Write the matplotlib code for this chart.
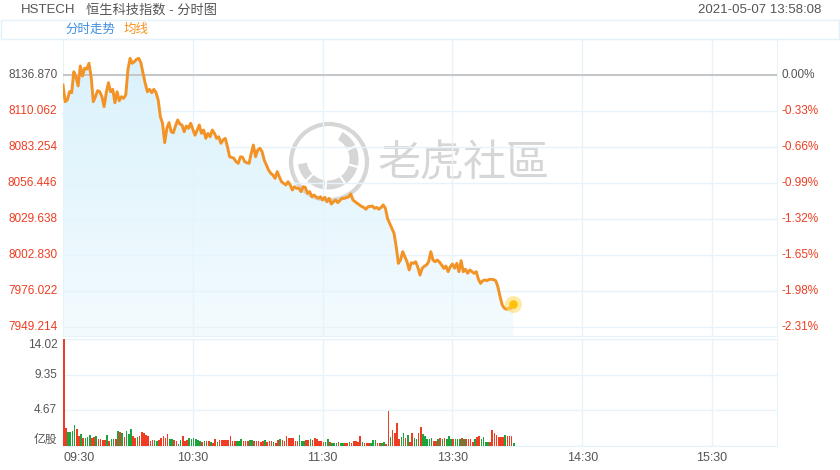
import numpy as np
import matplotlib.pyplot as plt
from matplotlib.colors import LinearSegmentedColormap
from matplotlib.patches import Circle, Arc, Rectangle
from matplotlib.lines import Line2D

plt.rcParams['font.family'] = ['Liberation Sans', 'Noto Sans CJK SC', 'DejaVu Sans']

# valores (um por minuto, a partir de 09:30)
fechamento_anterior = 8136.870
precos = [
    8129.4, 8117.0, 8118.3, 8124.4, 8123.7, 8139.3, 8135.6, 8128.7, 8143.6, 8136.1,
    8141.9, 8141.3, 8145.6, 8135.6, 8117.0, 8120.7, 8125.2, 8124.4, 8120.7, 8113.3,
    8123.7, 8131.1, 8124.4, 8126.2, 8116.2, 8124.4, 8117.7, 8120.7, 8119.5, 8122.0,
    8140.6, 8149.3, 8145.6, 8146.8, 8148.6, 8149.3, 8146.0, 8138.1, 8130.7, 8124.4,
    8126.2, 8123.7, 8126.2, 8123.7, 8118.3, 8105.8, 8100.9, 8086.5, 8097.2, 8101.4,
    8094.6, 8093.9, 8099.0, 8103.4, 8100.4, 8099.6, 8094.6, 8098.9, 8097.2, 8100.9,
    8096.4, 8092.0, 8095.9, 8099.6, 8093.4, 8095.9, 8089.7, 8093.4, 8090.9, 8095.9,
    8093.4, 8089.7, 8090.9, 8086.0, 8088.5, 8089.7, 8083.5, 8076.0, 8075.5, 8074.8,
    8072.3, 8071.1, 8076.0, 8075.6, 8072.3, 8071.5, 8071.1, 8078.6, 8084.7, 8076.0,
    8081.0, 8082.3, 8079.8, 8073.6, 8069.9, 8066.1, 8063.7, 8062.4, 8059.9, 8064.9,
    8061.0, 8057.4, 8056.2, 8055.0, 8057.4, 8055.0, 8051.2, 8053.7, 8052.5, 8052.5,
    8050.0, 8053.7, 8053.2, 8048.8, 8050.0, 8046.2, 8047.5, 8046.0, 8045.0, 8046.2,
    8043.8, 8045.8, 8042.5, 8045.0, 8040.8, 8042.5, 8043.8, 8041.8, 8043.5, 8045.0,
    8045.0, 8045.5, 8046.2, 8048.3, 8043.8, 8042.5, 8041.3, 8040.1, 8039.0, 8038.3,
    8036.9, 8038.8, 8039.0, 8039.3, 8037.6, 8038.3, 8036.9, 8038.3, 8040.1, 8037.6,
    8030.0, 8026.4, 8023.0, 8019.0, 8009.0, 7996.6, 7999.1, 8005.3, 8001.6, 7997.8,
    7991.7, 7997.1, 7996.6, 7997.8, 7993.7, 7987.9, 7992.9, 7994.5, 7995.4, 7997.8,
    8005.3, 7999.1, 7997.8, 7999.1, 7997.5, 7995.4, 7992.9, 7994.6, 7990.4, 7994.1,
    7996.1, 7993.0, 7996.6, 7990.4, 7998.6, 7990.4, 7992.2, 7989.2, 7991.7, 7990.4,
    7989.2, 7990.4, 7984.8, 7981.7, 7983.7, 7984.2, 7983.7, 7984.7, 7984.7, 7984.5,
    7983.7, 7979.2, 7971.8, 7965.6, 7963.2, 7962.4, 7963.2, 7963.2, 7966.0,
]
volumes = [
    14.02, 2.40, 1.84, 1.84, 1.93, 2.72, 2.19, 1.27, 1.53, 1.10,
    1.10, 1.18, 1.40, 1.10, 1.18, 1.27, 0.96, 0.96, 0.83, 0.83,
    1.40, 0.61, 0.92, 0.96, 0.96, 1.93, 1.84, 1.71, 1.18, 1.93,
    1.62, 2.28, 1.27, 1.10, 1.15, 1.27, 1.80, 1.71, 1.40, 1.27,
    0.61, 0.83, 0.74, 0.61, 0.83, 1.05, 1.27, 1.10, 1.62, 0.96,
    0.96, 0.74, 0.61, 0.31, 0.83, 1.36, 0.61, 0.74, 1.05, 0.96,
    1.00, 0.95, 0.75, 0.60, 0.55, 0.70, 0.60, 0.60, 0.50, 0.45,
    0.95, 0.55, 0.75, 0.80, 0.75, 0.75, 0.80, 1.25, 0.60, 0.65,
    0.60, 0.70, 0.95, 0.60, 0.60, 0.70, 0.85, 0.75, 0.60, 0.65,
    0.60, 0.55, 0.60, 0.80, 0.55, 0.60, 0.60, 0.55, 0.40, 0.80,
    0.95, 0.85, 0.60, 1.35, 1.05, 1.05, 1.05, 0.60, 0.60, 1.45,
    0.65, 0.70, 0.80, 0.85, 0.90, 0.85, 1.00, 0.90, 0.70, 0.60,
    0.55, 0.50, 0.88, 0.50, 0.45, 0.45, 0.45, 0.50, 0.45, 0.45,
    0.45, 0.40, 0.50, 0.35, 0.65, 0.60, 0.55, 1.30, 0.57, 0.45,
    0.45, 0.40, 0.45, 0.80, 0.80, 0.40, 0.45, 0.40, 0.57, 0.30,
    4.60, 1.20, 2.10, 1.65, 2.95, 0.90, 1.20, 1.65, 1.00, 1.45,
    0.55, 1.65, 1.00, 0.90, 1.65, 2.50, 1.55, 1.30, 0.90, 0.90,
    1.00, 0.60, 0.60, 0.90, 1.00, 0.90, 1.00, 0.90, 1.30, 0.90,
    0.90, 0.90, 0.90, 0.90, 1.00, 0.95, 0.90, 0.90, 0.90, 0.55,
    0.90, 1.15, 1.30, 0.90, 1.15, 0.55, 0.55, 0.55, 2.10, 1.75,
    1.45, 1.20, 1.15, 1.15, 1.45, 1.30, 1.30, 1.30, 0.45,
]
# r = alta (vermelho), g = baixa (verde)
sobe_desce = ("rrggggrrgr" "gggrrgrrrr" "grggrgrgrg" "ggrrgrrrrr" "rrggrrrrrg"
              "grrggrrrgg" "ggggrgrrgr" "rgrrrrrrrr" "gggrrrggrr" "rrrgrrrgrr"
              "grrrrrrrrg" "ggrrgrrrrr" "rggrgggrgg" "rrgrrrrrgr" "rrgggrrggr"
              "rgrrrrggrg" "rrggrrgggg" "grrgrgrggg" "rgggrgrrrr" "grrggggrrr"
              "rrrrgrrrg")

precos_eixo = [8136.870, 8110.062, 8083.254, 8056.446, 8029.638, 8002.830, 7976.022, 7949.214]
pct_eixo = ['0.00%', '-0.33%', '-0.66%', '-0.99%', '-1.32%', '-1.65%', '-1.98%', '-2.31%']
vol_eixo = [14.02, 9.35, 4.67, 0]
vol_rotulos = ['14.02', '9.35', '4.67', '亿股']
horas = ['09:30', '10:30', '11:30', '13:30', '14:30', '15:30']

W, H = 840, 470
VERMELHO = '#ee3d22'
VERDE = '#1ba53c'
GRADE = '#e6f3fa'
CINZA = '#555555'


def px(x0, y0, x1, y1):
    # caixa em pixels (origem no topo) -> fração da figura
    return [x0 / W, 1 - y1 / H, (x1 - x0) / W, (y1 - y0) / H]


def minuto(hhmm):
    # minutos de pregão desde 09:30 (pausa de 12:00 a 13:00)
    h, m = map(int, hhmm.split(':'))
    t = h * 60 + m - 570
    return t - 60 if t > 150 else t


fig = plt.figure(figsize=(W / 100, H / 100), dpi=100)
ax = fig.add_axes(px(63, 39, 777, 336))
axv = fig.add_axes(px(63, 339, 777, 446))

x = np.arange(len(precos))
passo = precos_eixo[0] - precos_eixo[1]
y0, y1 = precos_eixo[-1] - passo * 0.25, precos_eixo[0] + passo

for a in (ax, axv):
    a.set_xlim(0, minuto('16:00'))
    for s in a.spines.values():
        s.set_color(GRADE)
    a.grid(color=GRADE, lw=1)
    a.set_axisbelow(False)

# painel de preço
ax.set_ylim(y0, y1)
ax.set_yticks(precos_eixo)
ax.set_xticks([minuto(h) for h in horas[1:]])
ax.tick_params(length=0, labelleft=False, labelbottom=False)

grad = np.linspace(0, 1, 256).reshape(-1, 1)
cmap = LinearSegmentedColormap.from_list('azul', ['#f4fbfe', '#d8f1fc'])
img = ax.imshow(grad, extent=[0, minuto('16:00'), y0, y1], origin='lower',
                aspect='auto', cmap=cmap, zorder=1)
poly = ax.fill_between(x, precos, y0, color='none', lw=0)
img.set_clip_path(poly.get_paths()[0], transform=ax.transData)
ax.set_xlim(0, minuto('16:00'))
ax.set_ylim(y0, y1)

ax.axhline(fechamento_anterior, color='#c2c2c2', lw=1.3, zorder=3)
ax.plot(x, precos, color='#f39325', lw=2.1, zorder=4, solid_joinstyle='round')
ax.scatter(x[-1], precos[-1], s=150, color='#ffd95a', alpha=0.55, lw=0, zorder=5)
ax.scatter(x[-1], precos[-1], s=38, color='#ffc107', lw=0, zorder=6)

for i, (p, pc) in enumerate(zip(precos_eixo, pct_eixo)):
    cor = CINZA if i == 0 else VERMELHO
    ax.text(-0.008, p, f'{p:.3f}', transform=ax.get_yaxis_transform(),
            ha='right', va='center', fontsize=8.5, color=cor)
    ax.text(1.006, p, pc, transform=ax.get_yaxis_transform(),
            ha='left', va='center', fontsize=8.5, color=cor)

# marca d'água
tr = fig.dpi_scale_trans
wm = '#d6d6d6'
ax.add_patch(Circle((3.29, 3.08), 0.38, fill=False, ec=wm, lw=3.0, transform=tr, clip_on=False, zorder=2))
ax.add_patch(Arc((3.28, 3.11), 0.52, 0.52, theta1=-170, theta2=62, ec=wm, lw=6.5,
                 transform=tr, clip_on=False, zorder=2))
for ang in (-135, -95, -55, -15, 25):
    r = np.deg2rad(ang)
    ax.add_line(Line2D([3.28 + 0.19 * np.cos(r), 3.28 + 0.33 * np.cos(r)],
                       [3.11 + 0.19 * np.sin(r), 3.11 + 0.33 * np.sin(r)],
                       color='white', lw=1.6, transform=tr, clip_on=False, zorder=2))
ax.text(3.78, 3.05, '老虎社區', transform=tr, ha='left', va='center', fontsize=31,
        color=wm, family=['Noto Sans CJK TC', 'Noto Sans CJK SC'], zorder=2)

# painel de volume
cores = [VERMELHO if c == 'r' else VERDE for c in sobe_desce]
axv.bar(np.arange(len(volumes)), volumes, width=0.75, align='edge', color=cores, lw=0, zorder=3)
axv.set_ylim(0, vol_eixo[0])
axv.set_yticks(vol_eixo)
axv.set_xticks([minuto(h) for h in horas])
axv.set_xticklabels(horas)
axv.tick_params(length=0, labelleft=False, labelsize=9, labelcolor=CINZA, pad=4)
axv.get_xticklabels()[0].set_ha('left')

for v, rot in zip(vol_eixo, vol_rotulos):
    va = 'top' if v == vol_eixo[0] else ('bottom' if v == 0 else 'center')
    axv.text(-0.008, v, rot, transform=axv.get_yaxis_transform(),
             ha='right', va=va, fontsize=8.5, color=CINZA)

# cabeçalho
fig.text(21 / W, 1 - 10 / H, 'HSTECH', va='center', fontsize=9.5, color=CINZA)
fig.text(86 / W, 1 - 10 / H, '恒生科技指数 - 分时图', va='center', fontsize=9.5, color=CINZA)
fig.text(821 / W, 1 - 10 / H, '2021-05-07 13:58:08', va='center', ha='right', fontsize=9.5, color=CINZA)
fig.patches.append(Rectangle((1 / W, 1 - 39 / H), 838 / W, 19 / H, transform=fig.transFigure,
                             fill=False, ec='#e3f1fa', lw=1))
fig.text(65 / W, 1 - 30 / H, '分时走势', va='center', fontsize=9, color='#3d8fe0')
fig.text(124 / W, 1 - 30 / H, '均线', va='center', fontsize=9, color='#f7931e')

fig.savefig('out.png', dpi=100)
